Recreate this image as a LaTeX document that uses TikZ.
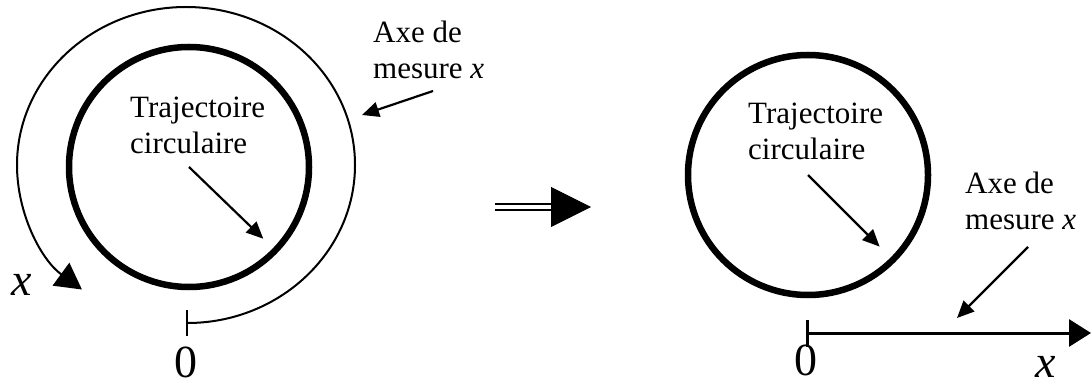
\documentclass[tikz,border=0pt]{standalone}
\usepackage{fontspec}
\setmainfont{Liberation Serif}
\usepackage{tikz}
\usetikzlibrary{arrows.meta, positioning}

\begin{document}
\begin{tikzpicture}[
  x=1pt, y=-1pt,
  traj/.style={circle, draw=black, line width=6.5pt, minimum size=240pt, inner sep=0pt},
  txt/.style={align=left, inner sep=0pt, anchor=north west, font=\fontsize{31}{36}\selectfont},
  big/.style={inner sep=0pt, font=\fontsize{46}{50}\selectfont},
  ptr/.style={-{Triangle[length=17pt, width=15pt]}, line width=2.2pt},
  measure/.style={{Bar[width=26pt]}-{Triangle[length=26pt, width=28pt]}, line width=2pt},
  axis/.style={{Bar[width=27pt]}-{Triangle[length=22pt, width=27pt]}, line width=3pt}
]
\useasboundingbox (0,0) rectangle (1092,387);
% left: x measured along the circle
\node[traj] (trajL) at (189,167) {};
\node[txt] (txtL) at (130,97) {Trajectoire\\circulaire};
\draw[ptr, shorten >=20pt] (trajL.center) -- (trajL.-44);
\coordinate (oL) at (186,323);
\draw[measure] (oL) arc[start angle=90, end angle=-232, x radius=169, y radius=158];
\node[big, below=24pt of oL] (zeroL) {0};
\node[big] (xL) at (22,285) {\textit{x}};
\node[txt] (axeL) at (373,21) {Axe de\\mesure \textit{x}};
\coordinate (axeLt) at (433,91);
\coordinate (axeLh) at (362,115);
\draw[ptr] (axeLt) -- (axeLh);
% middle
\coordinate (impA) at (495,207);
\coordinate (impB) at (551,207);
\coordinate (impC) at (591,207);
\draw[double, double distance=3.3pt, line width=2.7pt] (impA) -- (impB);
\draw[line width=1pt, -{Triangle[length=40pt, width=40pt]}] (impB) -- (impC);
% right: x on a straight axis
\node[traj] (trajR) at (808,175) {};
\node[txt] (txtR) at (748,103) {Trajectoire\\circulaire};
\draw[ptr, shorten >=22pt] (trajR.center) -- (trajR.-45);
\coordinate (oR) at (806,333);
\coordinate (xR) at (1091,333);
\draw[axis] (oR) -- (xR);
\node[big, below=12pt of oR] (zeroR) {0};
\node[big] (xRl) at (1046,367) {\textit{x}};
\node[txt] (axeR) at (965,172) {Axe de\\mesure \textit{x}};
\coordinate (axeRt) at (1028,247);
\coordinate (axeRh) at (957,318);
\draw[ptr] (axeRt) -- (axeRh);
\end{tikzpicture}
\end{document}
